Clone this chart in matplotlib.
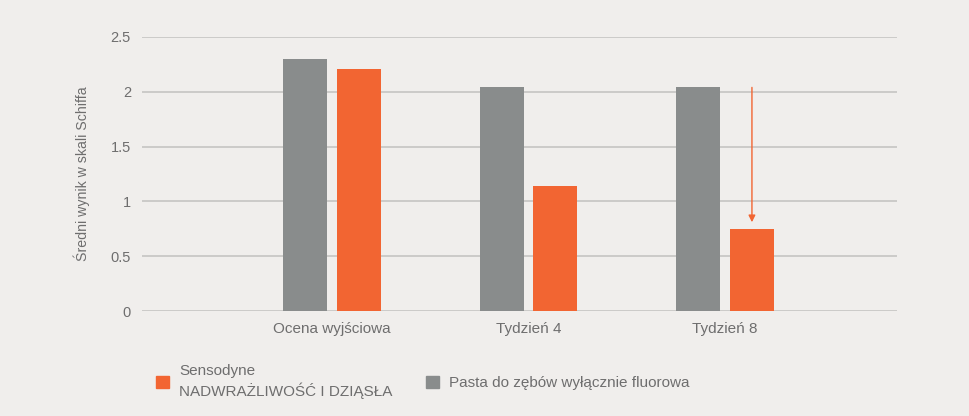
import matplotlib.pyplot as plt
import numpy as np
from matplotlib.patches import Patch

# ==== Dane ====
kategorie = ["Ocena wyjściowa", "Tydzień 4", "Tydzień 8"]
pasta_fluorowa = [2.30, 2.04, 2.04]
sensodyne = [2.21, 1.14, 0.75]
etykiety_y = ["0", "0.5", "1", "1.5", "2", "2.5"]
wartosci_y = [0, 0.5, 1, 1.5, 2, 2.5]

TLO = "#f0eeec"
SZARY = "#898c8c"
POMARANCZ = "#f26532"
TEKST = "#6e6e6e"

plt.rcParams["font.family"] = ["Liberation Sans", "DejaVu Sans"]

fig = plt.figure(figsize=(9.7, 4.16), dpi=100, facecolor=TLO)
ax = fig.add_axes([0.1464, 0.2524, 0.7783, 0.6587], facecolor=TLO)

x = np.arange(1, len(kategorie) + 1)
szer = 0.224
off = 0.137
ax.bar(x - off, pasta_fluorowa, szer, color=SZARY, zorder=3)
ax.bar(x + off, sensodyne, szer, color=POMARANCZ, zorder=3)

# strzałka spadku w tygodniu 8
ax.annotate("", xy=(x[2] + off, sensodyne[2] + 0.06), xytext=(x[2] + off, pasta_fluorowa[2]),
            arrowprops=dict(arrowstyle="-|>", color=POMARANCZ, lw=1, mutation_scale=10,
                            shrinkA=0, shrinkB=0), zorder=4)

ax.set_xlim(0.033, 3.875)
ax.set_ylim(0, 2.5)
ax.set_xticks(x)
ax.set_xticklabels(kategorie)
ax.set_yticks(wartosci_y)
ax.set_yticklabels(etykiety_y)
ax.tick_params(axis="both", length=0, colors=TEKST)
ax.tick_params(axis="x", pad=8, labelsize=11)
ax.tick_params(axis="y", pad=8, labelsize=10.5)
ax.grid(True, axis="y", color="#c9c8c6", lw=1.3, zorder=0)
for s in ax.spines.values():
    s.set_visible(False)

ax.set_ylabel("Średni wynik w skali Schiffa", color=TEKST, fontsize=10.2, labelpad=15)

uchwyty = [Patch(color=POMARANCZ), Patch(color=SZARY)]
leg = fig.legend(uchwyty, ["Sensodyne\nNADWRAŻLIWOŚĆ I DZIĄSŁA", "Pasta do zębów wyłącznie fluorowa"],
                 loc="upper left", bbox_to_anchor=(0.155, 0.14), ncol=2, frameon=False,
                 fontsize=11, labelcolor=TEKST, handlelength=0.8, handleheight=0.8,
                 handletextpad=0.7, columnspacing=2.2, borderaxespad=0)
leg.get_texts()[0].set_linespacing(1.35)

fig.savefig("out.png", dpi=100, facecolor=TLO)
